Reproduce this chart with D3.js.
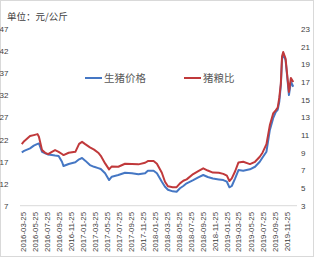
<!DOCTYPE html>
<html><head><meta charset="utf-8">
<script src="https://cdn.jsdelivr.net/npm/d3@7"></script>
<style>body{margin:0;background:#fff}svg{display:block}</style>
</head><body>
<svg id="c" width="315" height="258"></svg>
<script>
const dates = ["2016-03-20","2016-04-01","2016-05-01","2016-05-20","2016-06-08","2016-06-15","2016-07-01","2016-07-17","2016-08-01","2016-08-20","2016-09-05","2016-09-23","2016-10-10","2016-10-18","2016-11-13","2016-12-17","2017-01-05","2017-01-20","2017-02-05","2017-03-01","2017-03-22","2017-04-12","2017-04-25","2017-05-17","2017-06-06","2017-06-20","2017-07-23","2017-08-26","2017-09-30","2017-11-02","2017-12-06","2017-12-20","2018-01-18","2018-02-04","2018-03-01","2018-03-17","2018-04-01","2018-04-25","2018-05-15","2018-06-01","2018-06-18","2018-07-05","2018-08-07","2018-09-02","2018-09-27","2018-10-20","2018-11-15","2018-12-15","2019-01-07","2019-01-25","2019-02-07","2019-02-19","2019-03-08","2019-03-25","2019-04-18","2019-05-22","2019-06-17","2019-07-11","2019-07-25","2019-08-14","2019-08-31","2019-09-17","2019-09-30","2019-10-10","2019-10-18","2019-10-26","2019-11-01","2019-11-07","2019-11-19","2019-11-29","2019-12-06","2019-12-16","2019-12-28"];
const hogPrice = [19.08,19.4,19.99,20.6,21.0,21.1,19.2,18.86,18.6,18.47,18.35,18.24,16.95,15.98,16.43,16.82,17.5,17.8,17.2,16.2,15.8,15.5,15.3,14.33,12.81,13.56,13.95,14.47,14.33,14.1,14.33,14.92,14.92,14.33,12.43,11.3,10.6,10.25,10.17,10.94,11.46,12.07,12.81,13.43,13.95,13.5,13.15,12.95,12.81,12.43,11.16,11.46,13.2,15.08,14.92,15.24,15.82,16.95,17.9,19.22,24.1,26.8,28.2,28.7,30.5,34.3,40.0,41.5,39.96,35.44,32.05,35.05,33.92];
const hogGrainRatio = [9.97,10.3,10.88,10.99,11.1,10.8,9.29,8.99,8.83,9.1,9.29,9.1,8.85,8.73,8.99,9.1,10.0,10.23,9.97,9.6,9.35,9.0,8.65,7.79,7.11,7.45,7.41,7.75,7.71,7.68,7.86,8.05,8.05,7.75,6.73,5.71,5.2,5.1,5.1,5.53,5.82,5.98,6.58,6.92,7.23,6.98,6.75,6.73,6.6,6.4,5.79,6.1,6.9,7.9,7.97,7.71,7.97,8.54,9.0,9.97,12.1,13.44,13.8,14.1,15.2,16.83,19.9,20.4,19.66,17.4,15.88,17.46,17.01];
const seriesNames = ["生猪价格","猪粮比"];
const leftTicks = [7,12,17,22,27,32,37,42,47];
const rightTicks = [3,5,7,9,11,13,15,17,19,21,23];
const xTickLabels = ["2016-03-25","2016-05-25","2016-07-25","2016-09-25","2016-11-25","2017-01-25","2017-03-25","2017-05-25","2017-07-25","2017-09-25","2017-11-25","2018-01-25","2018-03-25","2018-05-25","2018-07-25","2018-09-25","2018-11-25","2019-01-25","2019-03-25","2019-05-25","2019-07-25","2019-09-25","2019-11-25"];
const unitLabel = "单位：元/公斤";

const parse = d3.timeParse("%Y-%m-%d");
const svg = d3.select("#c");
const blue = "#4577c4", red = "#c0393b", txt = "#404040";
const font = "'Liberation Sans', Arial, sans-serif";
const cjk = "'Noto Sans CJK SC', sans-serif";

svg.append("rect").attr("x",0.5).attr("y",0.5).attr("width",313).attr("height",256)
  .attr("fill","#fff").attr("stroke","#d9d9d9");

const x = d3.scaleTime().domain([parse("2016-03-11"), parse("2020-01-16")]).range([20, 297]);
const yL = d3.scaleLinear().domain([7,47]).range([205.7, 29]);
const yR = d3.scaleLinear().domain([3,23]).range([205.7, 29]);

// baseline
svg.append("line").attr("x1",20).attr("x2",297).attr("y1",205.7).attr("y2",205.7)
  .attr("stroke","#d9d9d9").attr("stroke-width",1);

// left axis
const gl = svg.append("g").attr("transform","translate(8.5,0)")
  .call(d3.axisLeft(yL).tickValues(leftTicks).tickSize(0).tickPadding(0));
gl.select(".domain").remove();
gl.selectAll("text").attr("font-family",font).attr("font-size",8).attr("fill",txt);

// right axis
const gr = svg.append("g").attr("transform","translate(301,0)")
  .call(d3.axisRight(yR).tickValues(rightTicks).tickSize(0).tickPadding(0));
gr.select(".domain").remove();
gr.selectAll("text").attr("font-family",font).attr("font-size",8).attr("fill",txt);

// x axis
const gx = svg.append("g").attr("transform","translate(0,209)")
  .call(d3.axisBottom(x).tickValues(xTickLabels.map(parse)).tickSize(0).tickFormat(d3.timeFormat("%Y-%m-%d")));
gx.select(".domain").remove();
gx.selectAll("text").attr("font-family",font).attr("font-size",7.8).attr("fill",txt)
  .attr("transform","rotate(-90)").attr("text-anchor","end").attr("x",-3).attr("y",0).attr("dy","0.32em");

const pts = dates.map((d,i)=>({d:parse(d), p:hogPrice[i], r:hogGrainRatio[i]}));
svg.append("path").datum(pts).attr("fill","none").attr("stroke",blue).attr("stroke-width",2)
  .attr("stroke-linejoin","round").attr("d", d3.line().x(d=>x(d.d)).y(d=>yL(d.p)));
svg.append("path").datum(pts).attr("fill","none").attr("stroke",red).attr("stroke-width",2)
  .attr("stroke-linejoin","round").attr("d", d3.line().x(d=>x(d.d)).y(d=>yR(d.r)));

// title
svg.append("text").attr("x",7).attr("y",20).attr("font-family",cjk).attr("font-size",9.5)
  .attr("fill",txt).text(unitLabel);

// legend
const leg = [{n:seriesNames[0], c:blue, x:85}, {n:seriesNames[1], c:red, x:184}];
leg.forEach(l=>{
  svg.append("line").attr("x1",l.x).attr("x2",l.x+17).attr("y1",78).attr("y2",78)
    .attr("stroke",l.c).attr("stroke-width",2);
  svg.append("text").attr("x",l.x+19).attr("y",81.5).attr("font-family",cjk).attr("font-size",10.5)
    .attr("fill","#595959").text(l.n);
});
</script>
</body></html>
